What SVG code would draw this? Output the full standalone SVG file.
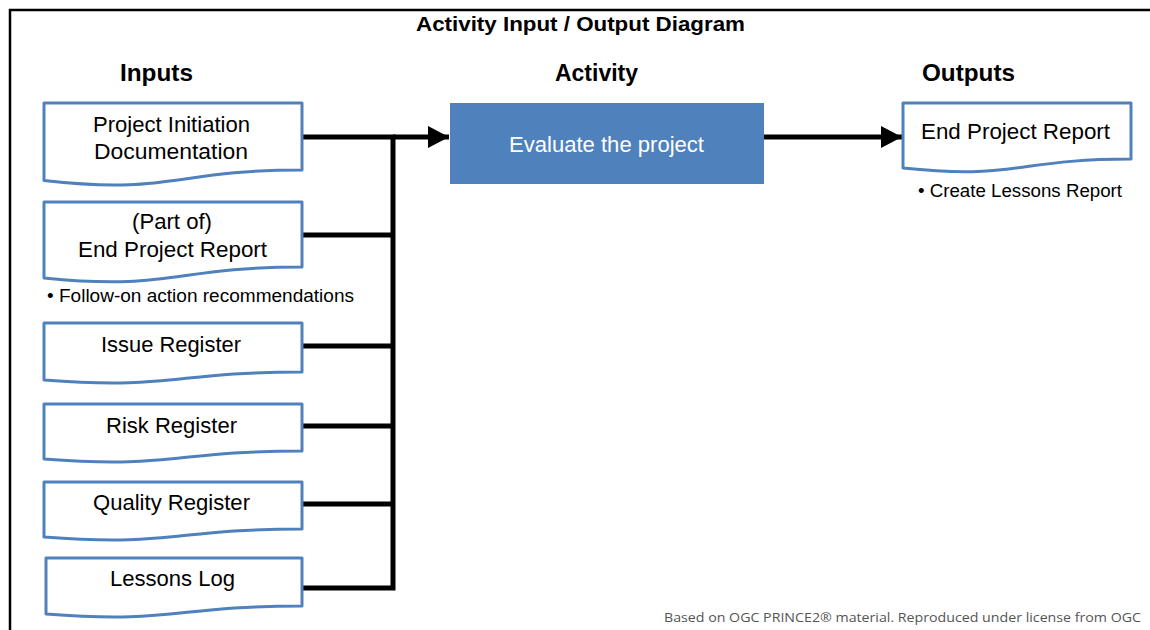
<svg xmlns="http://www.w3.org/2000/svg" width="1150" height="630" viewBox="0 0 1150 630">
<defs>
<style>
.doc{fill:#fff;stroke:#4F81BD;stroke-width:3;stroke-linejoin:round}
.t{font-family:"Liberation Sans",Arial,sans-serif;font-size:22px;fill:#000;text-anchor:middle}
.h{font-family:"Liberation Sans",Arial,sans-serif;font-size:23px;font-weight:bold;fill:#000;text-anchor:middle}
.b{font-family:"Liberation Sans",Arial,sans-serif;font-size:17.5px;fill:#000}
.ln{stroke:#000;stroke-width:5;fill:none}
</style>
<marker id="arr" markerWidth="5" markerHeight="5" refX="4.2" refY="2.5" orient="auto" markerUnits="strokeWidth">
<path d="M0,0.3 L4.2,2.5 L0,4.7 Z" fill="#000"/>
</marker>
</defs>
<rect x="0" y="0" width="1150" height="630" fill="#fff"/>
<path d="M10,630 V10 H1150" fill="none" stroke="#000" stroke-width="2.5"/>
<text x="580.5" y="31" class="h" style="font-size:21px" textLength="329" lengthAdjust="spacingAndGlyphs">Activity Input / Output Diagram</text>
<text x="156.5" y="81" class="h" textLength="73" lengthAdjust="spacingAndGlyphs">Inputs</text>
<text x="596.5" y="81" class="h" textLength="83" lengthAdjust="spacingAndGlyphs">Activity</text>
<text x="968.5" y="81" class="h" textLength="93" lengthAdjust="spacingAndGlyphs">Outputs</text>

<g id="connectors">
<path class="ln" d="M302,137 H393 V588 H302"/>
<path class="ln" d="M302,235 H393 M302,346 H393 M302,426 H393 M302,504 H393"/>
<path class="ln" d="M393,137 H449" marker-end="url(#arr)"/>
<path class="ln" d="M764,137 H902" marker-end="url(#arr)"/>
</g>

<g id="n-pid">
<path class="doc" d="M44,103 H302 V170 C173,170 173,195 44,180.5 Z"/>
<text x="171.5" y="132" class="t" textLength="157" lengthAdjust="spacingAndGlyphs">Project Initiation</text>
<text x="171" y="159" class="t" textLength="154" lengthAdjust="spacingAndGlyphs">Documentation</text>
</g>
<g id="n-epr-in">
<path class="doc" d="M44,202 H302 V267 C173,267 173,291 44,278 Z"/>
<text x="172" y="229" class="t" textLength="80" lengthAdjust="spacingAndGlyphs">(Part of)</text>
<text x="172.5" y="257" class="t" textLength="189" lengthAdjust="spacingAndGlyphs">End Project Report</text>
<text x="47" y="302" class="b" textLength="307" lengthAdjust="spacingAndGlyphs">• Follow-on action recommendations</text>
</g>
<g id="n-issue">
<path class="doc" d="M44,323 H302 V372 C173,372 173,390 44,380 Z"/>
<text x="171" y="352" class="t" textLength="140" lengthAdjust="spacingAndGlyphs">Issue Register</text>
</g>
<g id="n-risk">
<path class="doc" d="M44,404 H302 V451 C173,451 173,469 44,459 Z"/>
<text x="171.5" y="433" class="t" textLength="131" lengthAdjust="spacingAndGlyphs">Risk Register</text>
</g>
<g id="n-quality">
<path class="doc" d="M44,482 H302 V529 C173,529 173,547 44,537 Z"/>
<text x="171.5" y="510" class="t" textLength="157" lengthAdjust="spacingAndGlyphs">Quality Register</text>
</g>
<g id="n-lessons">
<path class="doc" d="M46,558 H302 V606 C174,606 174,624 46,614 Z"/>
<text x="172.5" y="586" class="t" textLength="125" lengthAdjust="spacingAndGlyphs">Lessons Log</text>
</g>
<g id="n-activity">
<rect x="450" y="103" width="314" height="81" fill="#4F81BD"/>
<text x="606.5" y="152" class="t" style="fill:#fff" textLength="195" lengthAdjust="spacingAndGlyphs">Evaluate the project</text>
</g>
<g id="n-epr-out">
<path class="doc" d="M903,103 H1131 V159 C1017,159 1017,180 903,168 Z"/>
<text x="1015.5" y="139" class="t" textLength="189" lengthAdjust="spacingAndGlyphs">End Project Report</text>
<text x="918" y="197" class="b" textLength="204" lengthAdjust="spacingAndGlyphs">• Create Lessons Report</text>
</g>
<text x="1141" y="622" text-anchor="end" textLength="477" lengthAdjust="spacingAndGlyphs" style="font-family:'Open Sans','Liberation Sans',sans-serif;font-size:13.5px;fill:#555">Based on OGC PRINCE2® material. Reproduced under license from OGC</text>
</svg>
